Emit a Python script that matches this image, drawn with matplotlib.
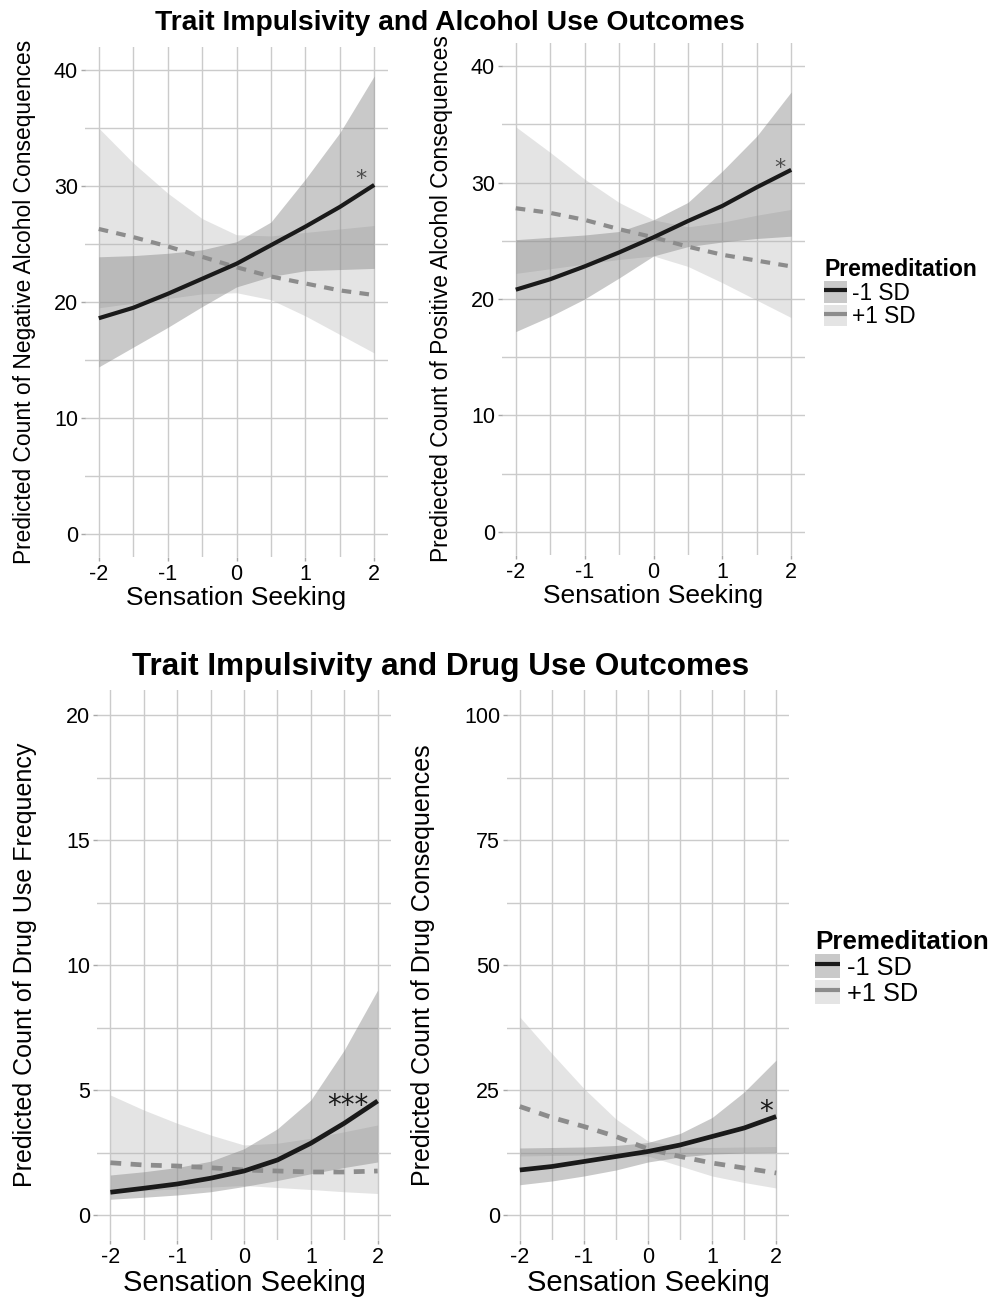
import matplotlib
matplotlib.use('Agg')
import matplotlib.pyplot as plt
from matplotlib.patches import Patch
from matplotlib.lines import Line2D
from matplotlib.legend_handler import HandlerTuple

plt.rcParams['font.family'] = ['Liberation Sans', 'DejaVu Sans']
plt.rcParams['axes.unicode_minus'] = False

# ---------------- data ----------------
x = [-2, -1.5, -1, -0.5, 0, 0.5, 1, 1.5, 2]
groups = ['-1 SD', '+1 SD']

# Negative alcohol consequences
neg_low_fit = [18.6, 19.5, 20.7, 22.0, 23.3, 24.9, 26.5, 28.2, 30.1]
neg_low_lwr = [14.4, 16.1, 17.8, 19.6, 21.3, 22.2, 22.7, 22.8, 22.9]
neg_low_upr = [23.9, 24.0, 24.2, 24.5, 25.2, 26.9, 30.6, 34.6, 39.5]
neg_high_fit = [26.3, 25.6, 24.8, 23.9, 23.0, 22.2, 21.6, 21.0, 20.6]
neg_high_lwr = [19.5, 19.9, 20.3, 20.7, 20.8, 20.2, 18.8, 17.2, 15.6]
neg_high_upr = [35.0, 32.0, 29.4, 27.2, 25.8, 25.7, 26.0, 26.3, 26.6]

# Positive alcohol consequences
pos_low_fit = [20.8, 21.7, 22.8, 24.0, 25.3, 26.7, 28.0, 29.6, 31.1]
pos_low_lwr = [17.2, 18.5, 20.0, 21.8, 23.7, 24.5, 24.9, 25.2, 25.4]
pos_low_upr = [25.1, 25.3, 25.5, 25.8, 26.8, 28.3, 31.0, 34.0, 37.8]
pos_high_fit = [27.8, 27.4, 26.8, 26.0, 25.3, 24.5, 23.8, 23.3, 22.8]
pos_high_lwr = [22.2, 22.6, 23.0, 23.4, 23.7, 22.8, 21.4, 19.9, 18.4]
pos_high_upr = [34.8, 32.6, 30.3, 28.3, 26.8, 26.2, 26.6, 27.2, 27.7]

# Drug use frequency
freq_low_fit = [0.91, 1.07, 1.24, 1.47, 1.76, 2.20, 2.87, 3.67, 4.56]
freq_low_lwr = [0.63, 0.71, 0.80, 0.93, 1.14, 1.38, 1.65, 1.90, 2.12]
freq_low_upr = [1.60, 1.73, 1.90, 2.15, 2.65, 3.45, 4.60, 6.60, 9.00]
freq_high_fit = [2.09, 2.00, 1.96, 1.89, 1.80, 1.76, 1.72, 1.72, 1.76]
freq_high_lwr = [0.91, 0.97, 1.05, 1.12, 1.18, 1.10, 1.02, 0.93, 0.86]
freq_high_upr = [4.80, 4.20, 3.67, 3.20, 2.80, 2.87, 3.07, 3.33, 3.60]

# Drug consequences
cons_low_fit = [9.0, 9.7, 10.7, 11.7, 12.7, 14.0, 15.7, 17.4, 19.7]
cons_low_lwr = [6.05, 6.8, 7.8, 9.0, 10.6, 11.6, 12.2, 12.4, 12.5]
cons_low_upr = [13.4, 13.5, 13.6, 13.9, 14.5, 16.3, 19.5, 24.6, 31.0]
cons_high_fit = [21.7, 19.5, 17.7, 15.7, 13.2, 11.7, 10.4, 9.4, 8.4]
cons_high_lwr = [11.8, 11.9, 12.0, 12.0, 11.8, 9.8, 7.8, 6.5, 5.4]
cons_high_upr = [39.6, 32.3, 25.3, 19.2, 14.8, 13.6, 13.5, 13.6, 13.7]

# ---------------- style ----------------
LINE_LOW = '#1a1a1a'
LINE_HIGH = '#8c8c8c'
FILL_LOW = '#808080'
FILL_HIGH = '#b3b3b3'
A_LOW = 0.42
A_HIGH = 0.35
GRID = '#cbcbcb'
DASH = (2.3, 2.0)

fig = plt.figure(figsize=(9.92, 13), dpi=100)
W, H = 992, 1300


def box(l, t, r, b):
    return [l / W, 1 - b / H, (r - l) / W, (b - t) / H]


def panel(rect, low, high, ylim, ymaj, ymin, ylabel, star, star_xy, star_size, star_color,
          tick_fs, xlab_fs, ylab_fs, lw, ylab_pad):
    ax = fig.add_axes(rect)
    ax.fill_between(x, high[1], high[2], color=FILL_HIGH, alpha=A_HIGH, lw=0)
    ax.fill_between(x, low[1], low[2], color=FILL_LOW, alpha=A_LOW, lw=0)
    ax.plot(x, high[0], color=LINE_HIGH, lw=lw, dashes=DASH, dash_capstyle='butt')
    ax.plot(x, low[0], color=LINE_LOW, lw=lw, solid_capstyle='butt')
    ax.set_xlim(-2.2, 2.2)
    ax.set_ylim(*ylim)
    ax.set_xticks([-2, -1, 0, 1, 2])
    ax.set_xticklabels(['-2', '-1', '0', '1', '2'])
    ax.set_xticks([-1.5, -0.5, 0.5, 1.5], minor=True)
    ax.set_yticks(ymaj)
    ax.set_yticks(ymin, minor=True)
    ax.grid(which='both', color=GRID, lw=1.0)
    ax.set_axisbelow(True)
    for s in ax.spines.values():
        s.set_visible(False)
    ax.tick_params(which='major', length=3, width=1, color='#a8a8a8',
                   labelsize=tick_fs, labelcolor='black', pad=2)
    ax.tick_params(which='minor', length=0)
    ax.set_xlabel('Sensation Seeking', fontsize=xlab_fs, labelpad=1)
    ax.set_ylabel(ylabel, fontsize=ylab_fs, labelpad=ylab_pad)
    ax.text(star_xy[0], star_xy[1], star, fontsize=star_size, color=star_color,
            ha='center', va='center', family='DejaVu Sans')
    return ax


top_tick = 15.5
panel(box(85, 47, 388, 557),
      (neg_low_fit, neg_low_lwr, neg_low_upr), (neg_high_fit, neg_high_lwr, neg_high_upr),
      (-2, 42), [0, 10, 20, 30, 40], [5, 15, 25, 35],
      'Predicted Count of Negative Alcohol Consequences', '*', (1.8, 30.6), 16, '#4d4d4d',
      top_tick, 19, 16.4, 3.0, 13)
panel(box(502, 43, 805, 555),
      (pos_low_fit, pos_low_lwr, pos_low_upr), (pos_high_fit, pos_high_lwr, pos_high_upr),
      (-2, 42), [0, 10, 20, 30, 40], [5, 15, 25, 35],
      'Prediected Count of Positive Alcohol Consequences', '*', (1.84, 31.3), 16, '#4d4d4d',
      top_tick, 19, 16.4, 3.0, 13)
panel(box(97, 690, 391, 1240),
      (freq_low_fit, freq_low_lwr, freq_low_upr), (freq_high_fit, freq_high_lwr, freq_high_upr),
      (-1, 21), [0, 5, 10, 15, 20], [2.5, 7.5, 12.5, 17.5],
      'Predicted Count of Drug Use Frequency', '***', (1.55, 4.35), 20, '#1a1a1a',
      top_tick, 21, 18, 3.4, 21)
panel(box(507, 690, 789, 1240),
      (cons_low_fit, cons_low_lwr, cons_low_upr), (cons_high_fit, cons_high_lwr, cons_high_upr),
      (-5, 105), [0, 25, 50, 75, 100], [12.5, 37.5, 62.5, 87.5],
      'Predicted Count of Drug Consequences', '*', (1.84, 20.5), 20, '#1a1a1a',
      top_tick, 21, 18, 3.4, 21)

fig.text(450 / W, 1 - 23 / H, 'Trait Impulsivity and Alcohol Use Outcomes',
         fontsize=20.3, weight='bold', ha='center', va='center')
fig.text(441 / W, 1 - 667 / H, 'Trait Impulsivity and Drug Use Outcomes',
         fontsize=22.7, weight='bold', ha='center', va='center')


def legend(anchor, title_fs, fs):
    h1 = (Patch(facecolor=FILL_LOW, alpha=A_LOW, lw=0),
          Line2D([], [], color=LINE_LOW, lw=3.0, solid_capstyle='butt'))
    h2 = (Patch(facecolor=FILL_HIGH, alpha=A_HIGH, lw=0),
          Line2D([], [], color=LINE_HIGH, lw=3.0, solid_capstyle='butt'))
    leg = fig.legend([h1, h2], groups, title='Premeditation', loc='upper left',
                     bbox_to_anchor=anchor, frameon=False,
                     handler_map={tuple: HandlerTuple(ndivide=1, pad=0)},
                     handlelength=1.0, handleheight=1.1, handletextpad=0.25,
                     labelspacing=0.0, borderpad=0, borderaxespad=0,
                     alignment='left', fontsize=fs,
                     title_fontproperties={'weight': 'bold', 'size': title_fs})
    return leg


legend((824 / W, 1 - 258 / H), 16.6, 16.3)
legend((815 / W, 1 - 930 / H), 18.7, 18.3)

fig.savefig('out.png', dpi=100)
